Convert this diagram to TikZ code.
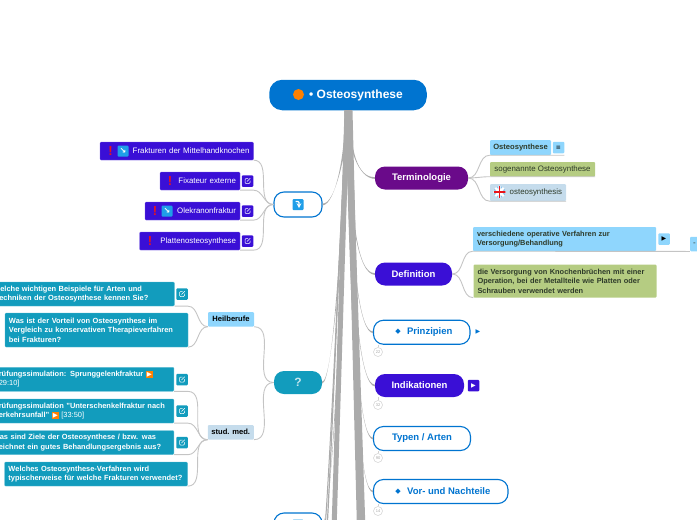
\documentclass[tikz,border=0pt]{standalone}
\usepackage{fontspec}
\setmainfont{Liberation Sans}
\newfontfamily\glyphfont{DejaVu Sans}
\usetikzlibrary{positioning}
\definecolor{rootblue}{HTML}{0074D0}
\definecolor{indigo}{HTML}{3A0FD6}
\definecolor{plum}{HTML}{6A0A8A}
\definecolor{teal}{HTML}{129CBD}
\definecolor{sky}{HTML}{8FD6FD}
\definecolor{sage}{HTML}{B5CC82}
\definecolor{mist}{HTML}{C5DCEC}
\definecolor{iconblue}{HTML}{1F9EE8}
\definecolor{alertred}{HTML}{E8141C}
\definecolor{limbgrey}{HTML}{ABABAB}
\definecolor{twiggrey}{HTML}{C4C4C4}
\definecolor{inkdark}{HTML}{2E3B2A}
\newcommand{\playmark}{{\fboxsep=1pt\colorbox{orange}{\glyphfont\fontsize{6.5}{6.5}\selectfont\textcolor{white}{▶}}}}
\tikzset{
  pillbase/.style = {rounded corners = 10pt, inner sep = 0pt, minimum height = 23pt, font = \fontsize{9.5}{11}\selectfont\bfseries},
  rootnode/.style = {pillbase, fill = rootblue, text = white, rounded corners = 13pt, minimum width = 157.5pt, minimum height = 30.5pt, font = \fontsize{12}{14}\selectfont\bfseries},
  filledpill/.style = {pillbase, fill = #1, text = white},
  ringpill/.style = {pillbase, draw = rootblue, line width = 1.1pt, fill = white, text = rootblue, minimum height = 24pt},
  alertbox/.style = {fill = indigo, draw = indigo!65, line width = .3pt, rounded corners = 1pt, text = white, inner xsep = 4pt, inner ysep = 0pt, minimum height = 18pt, align = right, font = \fontsize{7.9}{9}\selectfont},
  quizbox/.style = {fill = teal, draw = teal!70, line width = .3pt, rounded corners = 1pt, text = white, inner xsep = 4pt, inner ysep = 0pt, align = left, font = \fontsize{7.45}{9.6}\selectfont\bfseries},
  clipbox/.style = {quizbox, anchor = east, inner xsep = 1pt, text width = 174pt, minimum height = 24pt},
  groupbox/.style = {fill = #1, rounded corners = 1pt, text = black, inner sep = 0pt, minimum width = 46pt, minimum height = 14.5pt, font = \fontsize{7.6}{8}\selectfont\bfseries},
  notebox/.style = {fill = #1, rounded corners = 1pt, text = inkdark, inner xsep = 4pt, inner ysep = 0pt, align = left, font = \fontsize{7.4}{9.6}\selectfont\bfseries},
  tagbox/.style = {fill = #1, rounded corners = 1pt, text = inkdark, inner sep = 0pt, minimum height = 14.5pt, font = \fontsize{7.9}{8}\selectfont},
  linkbox/.style = {fill = #1, rounded corners = 1pt, inner sep = 0pt, minimum size = 11.5pt,
    path picture = {\draw[white, line width = .5pt, shift = {(path picture bounding box.center)}] (.5,-2.5) -- (-2.5,-2.5) -- (-2.5,2.5) -- (2.5,2.5) -- (2.5,-.5) (-.5,.5) -- (2.8,-2.8);}},
  glyphbox/.style = {fill = #1, rounded corners = 1pt, inner sep = 0pt, minimum size = 11.5pt, font = \glyphfont\fontsize{6}{6}\selectfont},
  arrowicon/.style = {fill = iconblue, rounded corners = 1pt, text = white, inner sep = 0pt, minimum size = 11pt, font = \glyphfont\bfseries\fontsize{8}{8}\selectfont},
  turnicon/.style = {arrowicon,
    path picture = {\draw[white, line width = 1.1pt, -stealth, shift = {(path picture bounding box.center)}] (-2.5,-3) -- (1,-3) -- (1,3.5);}},
  alertmark/.style = {text = alertred, inner sep = 0pt, font = \fontsize{13}{13}\selectfont\bfseries},
  countdot/.style = {circle, draw = black!18, fill = white, line width = .5pt, inner sep = 0pt, minimum size = 9pt, text = black!35, font = \fontsize{4}{4}\selectfont},
  stub/.style = {draw = black!18, line width = .5pt},
  twig/.style = {draw = twiggrey, line width = .9pt},
  limbfill/.style = {fill = limbgrey},
  trunk/.style = {draw = limbgrey}
}
\newcommand{\limb}[4]{\fill[limbfill] ([xshift=-#4 pt]root.south) .. controls #2 and #3 .. ([yshift=-.9pt]#1) -- ([yshift=.9pt]#1) .. controls #3 and #2 .. ([xshift=#4 pt]root.south) -- cycle;}
\begin{document}
\begin{tikzpicture}[x = 1pt, y = -1pt]
	\useasboundingbox (0,0) rectangle (697,520);

	\node[rootnode] (root) at (348,95) {\hspace{16pt}• Osteosynthese};
	\node[circle, fill = orange, inner sep = 0pt, minimum size = 11pt] (rootdot) at (298.5,94.5) {};

	\node[pillbase, draw = rootblue, line width = 1.1pt, fill = white, minimum width = 48pt, minimum height = 25pt] (links) at (298,204.5) {};
	\node[turnicon] (linksicon) at (298,204.5) {};
	\node[alertbox, text width = 145.5pt] (mittelhand) at (176.75,151) {Frakturen der Mittelhandknochen};
	\node[alertbox, text width = 72pt] (fixateur) at (200,181) {Fixateur externe};
	\node[alertbox, text width = 87pt] (olekranon) at (192.5,211) {Olekranonfraktur};
	\node[alertbox, text width = 92.5pt] (platten) at (189.75,241) {Plattenosteosynthese};
	\node[alertmark] (alerta) at (110.5,151) {!};
	\node[arrowicon] (icona) at (123,151) {↘};
	\node[alertmark] (alertb) at (170,181) {!};
	\node[alertmark] (alertc) at (155,211) {!};
	\node[arrowicon] (iconc) at (167,211) {↘};
	\node[alertmark] (alertd) at (150,241) {!};
	\node[linkbox = indigo] (linkb) at (247.5,181) {};
	\node[linkbox = indigo] (linkc) at (247.5,211) {};
	\node[linkbox = indigo] (linkd) at (247.5,241) {};

	\node[pillbase, fill = teal, text = white!75!teal, minimum width = 48pt, font = \fontsize{12}{14}\selectfont\bfseries] (quest) at (298,382.5) {?};
	\node[groupbox = sky] (heil) at (231,319.25) {Heilberufe};
	\node[groupbox = mist] (stud) at (230.75,432.25) {stud. med.};
	\node[clipbox] (quiza) at (174.5,294) {\hspace{1pt}elche wichtigen Beispiele für Arten und \\ echniken der Osteosynthese kennen Sie?};
	\node[quizbox, text width = 175pt, minimum height = 34pt] (quizb) at (96.5,330) {Was ist der Vorteil von Osteosynthese im \\ Vergleich zu konservativen Therapieverfahren \\ bei Frakturen?};
	\node[clipbox] (quizc) at (174,379.25) {rüfungssimulation: Sprunggelenkfraktur \playmark \\ {\mdseries 29:10]}};
	\node[clipbox] (quizd) at (174,411) {rüfungssimulation "Unterschenkelfraktur nach \\ erkehrsunfall" \playmark{} {\mdseries [33:50]}};
	\node[clipbox] (quize) at (174,442.5) {\hspace{1pt}as sind Ziele der Osteosynthese / bzw. was \\ eichnet ein gutes Behandlungsergebnis aus?};
	\node[quizbox, text width = 175pt, minimum height = 24pt] (quizf) at (96,474) {Welches Osteosynthese-Verfahren wird \\ typischerweise für welche Frakturen verwendet?};
	\node[linkbox = teal] (linkqa) at (182,294) {};
	\node[linkbox = teal] (linkqc) at (182,379.5) {};
	\node[linkbox = teal] (linkqd) at (182,411) {};
	\node[linkbox = teal] (linkqe) at (182,442.5) {};

	\node[ringpill, minimum width = 48pt, minimum height = 25pt] (lower) at (298,525.5) {};
	\node[arrowicon] (lowericon) at (298,525) {};

	\node[filledpill = plum, minimum width = 93pt] (term) at (421.5,178) {Terminologie};
	\node[tagbox = sky, minimum width = 61pt, font = \fontsize{7.6}{8}\selectfont\bfseries, minimum height = 15pt] (syn) at (520.5,147.5) {Osteosynthese};
	\node[glyphbox = sky] (synicon) at (558.5,147.5) {≡};
	\node[tagbox = sage, minimum width = 105pt] (sog) at (542.5,169.25) {sogenannte Osteosynthese};
	\node[tagbox = mist, inner xsep = 4pt, minimum height = 17pt, align = right, text width = 68pt] (engl) at (528,192.5) {osteosynthesis};
	\node[circle, inner sep = 0pt, minimum size = 12pt, fill = white, path picture = {
		\fill[rootblue!45, shift = {(path picture bounding box.center)}] (-6,-6) rectangle (6,6);
		\draw[white, line width = 2.2pt, shift = {(path picture bounding box.center)}] (-6,-6) -- (6,6) (-6,6) -- (6,-6) (-6,0) -- (6,0) (0,-6) -- (0,6);
		\draw[alertred, line width = 1.3pt, shift = {(path picture bounding box.center)}] (-6,0) -- (6,0) (0,-6) -- (0,6);
	}] (flag) at (499.5,192) {};

	\node[filledpill = indigo, minimum width = 77pt] (def) at (413.5,274) {Definition};
	\node[notebox = sky, text width = 175pt, minimum height = 24pt] (verf) at (564.5,239) {verschiedene operative Verfahren zur \\ Versorgung/Behandlung};
	\node[glyphbox = sky] (verficon) at (664,239) {▶};
	\node[tagbox = sky, minimum width = 20pt, minimum height = 14.5pt, text width = 14pt] (verfnext) at (700,244) {-};
	\node[notebox = sage, text width = 175pt, minimum height = 33pt] (versorg) at (565,281) {die Versorgung von Knochenbrüchen mit einer \\ Operation, bei der Metallteile wie Platten oder \\ Schrauben verwendet werden};

	\node[ringpill, minimum width = 96.5pt] (prinz) at (421.75,332.25) {\hspace{16pt}Prinzipien};
	\node[text = rootblue, inner sep = 0pt, font = \glyphfont\fontsize{7}{7}\selectfont] (prinzmark) at (398,332) {◆};
	\node[text = rootblue, inner sep = 0pt, font = \glyphfont\fontsize{6}{6}\selectfont] (prinznext) at (478,332) {▶};
	\node[countdot] (cnta) at (378,352) {22};
	\node[filledpill = indigo, minimum width = 89pt] (indik) at (419.5,385.5) {Indikationen};
	\node[glyphbox = indigo, text = white] (indiknext) at (473.5,385.5) {▶};
	\node[countdot] (cntb) at (378,405) {32};
	\node[ringpill, minimum width = 97pt] (typen) at (422,438.5) {Typen / Arten};
	\node[countdot] (cntc) at (378,458) {90};
	\node[ringpill, minimum width = 134.5pt] (vor) at (440.75,491.5) {\hspace{16pt}Vor- und Nachteile};
	\node[text = rootblue, inner sep = 0pt, font = \glyphfont\fontsize{7}{7}\selectfont] (vormark) at (398,491.5) {◆};
	\node[countdot] (cntd) at (378,511) {14};

	\coordinate (trunkla) at (334,530);
	\coordinate (trunkra) at (360,530);
	\coordinate (trunkrb) at (364,530);
	\coordinate (trunklb) at (327,530);
	\coordinate (trunklc) at (325,530);
	\draw[trunk, line width = 5pt] ([xshift=-1pt]root.south) -- (trunkla);
	\draw[trunk, line width = 6pt] ([xshift=1.5pt]root.south) -- (trunkra);
	\draw[trunk, line width = 3pt] ([xshift=2pt]root.south) -- (trunkrb);
	\draw[trunk, line width = 1.2pt] ([xshift=-1pt]root.south) .. controls (341,200) and (334,400) .. (trunklb);
	\draw[trunk, line width = 1pt] ([xshift=-1pt]root.south) .. controls (341,210) and (333,410) .. (trunklc);
	\limb{term.west}{(349,150)}{(358,178)}{3.5}
	\limb{def.west}{(349,220)}{(358,274)}{3.5}
	\limb{prinz.west}{(350,270)}{(360,332)}{2.5}
	\limb{indik.west}{(351,320)}{(362,385)}{2.5}
	\limb{typen.west}{(352,370)}{(362,438)}{2.5}
	\limb{vor.west}{(353,420)}{(362,491)}{2.5}
	\limb{links.east}{(346,150)}{(336,204.5)}{3.5}
	\limb{quest.east}{(342,250)}{(332,383)}{3.5}
	\limb{lower.east}{(338,400)}{(330,515)}{2.5}

	\draw[twig] (mittelhand.south east) to[out = 0, in = 180] (links.west);
	\draw[twig] (fixateur.south east) -- (linkb.east |- fixateur.south) to[out = 0, in = 180] (links.west);
	\draw[twig] (olekranon.south east) -- (linkc.east |- olekranon.south) to[out = 0, in = 180] (links.west);
	\draw[twig] (platten.south east) -- (linkd.east |- platten.south) to[out = 0, in = 180] (links.west);

	\draw[twig] (heil.south east) to[out = 0, in = 180] (quest.west);
	\draw[twig] (stud.south east) to[out = 0, in = 180] (quest.west);
	\draw[twig] (quiza.south east) -- (linkqa.east |- quiza.south) to[out = 0, in = 180] (heil.south west);
	\draw[twig] (quizb.south east) to[out = 0, in = 180] (heil.south west);
	\draw[twig] (quizc.south east) -- (linkqc.east |- quizc.south) to[out = 0, in = 180] (stud.south west);
	\draw[twig] (quizd.south east) -- (linkqd.east |- quizd.south) to[out = 0, in = 180] (stud.south west);
	\draw[twig] (quize.south east) -- (linkqe.east |- quize.south) to[out = 0, in = 180] (stud.south west);
	\draw[twig] (quizf.south east) to[out = 0, in = 180] (stud.south west);

	\draw[twig] (term.east) to[out = 0, in = 180] (syn.south west) -- (synicon.east |- syn.south);
	\draw[twig] (term.east) to[out = 0, in = 180] (sog.south west) -- (sog.south east);
	\draw[twig] (term.east) to[out = 0, in = 180] (engl.south west) -- (engl.south east);
	\draw[twig] (def.east) to[out = 0, in = 180] (verf.south west) -- (verfnext.south west);
	\draw[twig] (def.east) to[out = 0, in = 180] (versorg.south west);

	\draw[stub] (cnta.north) -- (cnta.north |- prinz.south);
	\draw[stub] (cntb.north) -- (cntb.north |- indik.south);
	\draw[stub] (cntc.north) -- (cntc.north |- typen.south);
	\draw[stub] (cntd.north) -- (cntd.north |- vor.south);
\end{tikzpicture}
\end{document}
